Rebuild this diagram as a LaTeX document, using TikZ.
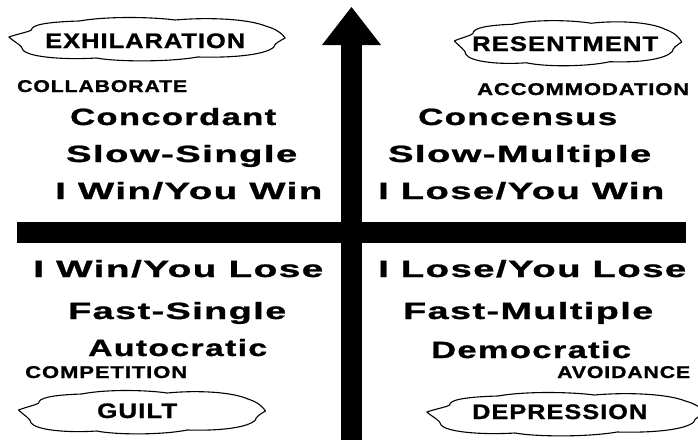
\documentclass[tikz,border=0pt]{standalone}
\usepackage{fontspec}
\setmainfont{Liberation Sans}
\newfontfamily\widefont[LetterSpace=4,FakeBold=1]{Liberation Sans Bold}
\usepackage{graphicx}
\newcommand\fitw[2]{\resizebox{#1pt}{\height}{#2}}
\begin{document}
\begin{tikzpicture}[x=1pt,y=-1pt,
  big/.style={inner sep=0pt,anchor=base west,font=\widefont\fontsize{23.5}{26}\selectfont},
  small/.style={inner sep=0pt,anchor=base west,font=\widefont\fontsize{17}{19}\selectfont},
  cloudtext/.style={inner sep=0pt,anchor=base west,font=\widefont\fontsize{21}{23}\selectfont},
  cloudline/.style={draw=black,line width=1.1pt,fill=white,line join=round},
  bar/.style={fill=black},
  cloud/.pic={
    \path[cloudline] (1,46)
      .. controls (4,40) and (8,36) .. (9,32)
      .. controls (9,22) and (14,16) .. (26,14)
      .. controls (36,4) and (52,6) .. (60,12)
      .. controls (72,6) and (86,10) .. (92,24)
      .. controls (96,30) and (98,40) .. (99,48)
      .. controls (97,54) and (95,60) .. (95,66)
      .. controls (92,82) and (80,88) .. (68,86)
      .. controls (58,96) and (40,96) .. (32,88)
      .. controls (20,92) and (8,86) .. (6,72)
      .. controls (6,64) and (3,56) .. (1,46) -- cycle;
  }]
\useasboundingbox (0,0) rectangle (698,439);
\fill[white] (0,0) rectangle (698,439);

% axes
\fill[bar] (17,222) rectangle (686,243);
\fill[bar] (341,44) rectangle (362,440);
\fill[bar] (322,45) -- (351.5,7) -- (381,45) -- cycle;

% clouds
\pic[shift={(6,14)},xscale=2.82,yscale=0.5] {cloud};
\pic[shift={(452,17)},xscale=2.32,yscale=0.52] {cloud};
\pic[shift={(16,387)},xscale=2.52,yscale=0.5] {cloud};
\pic[shift={(424,389)},xscale=2.84,yscale=0.5] {cloud};

\node[cloudtext] (exh) at (45,48) {\fitw{200}{EXHILARATION}};
\node[cloudtext] (res) at (472,51) {\fitw{186}{RESENTMENT}};
\node[cloudtext] (gui) at (97,418) {\fitw{80}{GUILT}};
\node[cloudtext] (dep) at (472,419) {\fitw{175}{DEPRESSION}};

\node[small] (col) at (17,92) {\fitw{170}{COLLABORATE}};
\node[small] (acc) at (477,95) {\fitw{212}{ACCOMMODATION}};
\node[small] (com) at (25,378) {\fitw{162}{COMPETITION}};
\node[small] (avo) at (557,378) {\fitw{133}{AVOIDANCE}};

\node[big] (conc) at (70,125) {\fitw{206}{Concordant}};
\node[big] (cons) at (418,125) {\fitw{199}{Concensus}};
\node[big] (ss) at (66,162) {\fitw{231}{Slow-Single}};
\node[big] (sm) at (388,162) {\fitw{263}{Slow-Multiple}};
\node[big] (iwyw) at (55,199) {\fitw{267}{I Win/You Win}};
\node[big] (ilyw) at (378,199) {\fitw{286}{I Lose/You Win}};
\node[big] (iwyl) at (33,277) {\fitw{290}{I Win/You Lose}};
\node[big] (ilyl) at (378,277) {\fitw{308}{I Lose/You Lose}};
\node[big] (fs) at (68,319) {\fitw{218}{Fast-Single}};
\node[big] (fm) at (403,319) {\fitw{250}{Fast-Multiple}};
\node[big] (aut) at (88,356) {\fitw{179}{Autocratic}};
\node[big] (dem) at (431,358) {\fitw{200}{Democratic}};
\end{tikzpicture}
\end{document}
